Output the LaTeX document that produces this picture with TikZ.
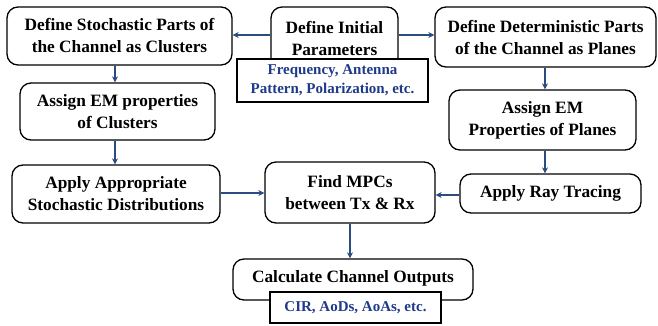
\documentclass[tikz,border=0pt]{standalone}
\usepackage{fontspec}
\setmainfont{Liberation Serif}
\usetikzlibrary{arrows.meta}
\definecolor{arrowblue}{HTML}{2B4C7E}
\definecolor{textblue}{HTML}{1F3A8A}
\begin{document}
\begin{tikzpicture}[x=1pt,y=-1pt,
  proc/.style={draw=black,line width=1.3pt,rounded corners=11pt,fill=white,align=center,
    font=\fontsize{17.3}{22}\selectfont\bfseries,inner sep=0pt},
  bigtext/.style={font=\fontsize{17.3}{22}\selectfont\bfseries,align=center,inner sep=0pt},
  info/.style={draw=black,line width=1.3pt,fill=white,align=center,text=textblue,
    font=\fontsize{15}{19}\selectfont\bfseries,inner sep=0pt},
  conn/.style={draw=arrowblue,line width=1.2pt,-{Stealth[length=6pt,width=6pt]}}]
\useasboundingbox (0,0) rectangle (658,325);
% boxes: center x, center y, width, height
\node[proc,minimum width=225pt,minimum height=58pt] (stoch) at (119.5,36) {Define Stochastic Parts of\\the Channel as Clusters};
\node[proc,minimum width=127pt,minimum height=62pt] (init) at (334.5,38) {};
\node[bigtext] (inittxt) at (334.5,38) {Define Initial\\Parameters};
\node[info,minimum width=191pt,minimum height=43pt] (freq) at (332.5,80.5) {Frequency, Antenna\\Pattern, Polarization, etc.};
\node[proc,minimum width=221pt,minimum height=60pt] (det) at (545.5,37) {Define Deterministic Parts\\of the Channel as Planes};
\node[proc,minimum width=195pt,minimum height=57pt] (emc) at (117.5,111.5) {Assign EM properties\\of Clusters};
\node[proc,minimum width=187pt,minimum height=60pt] (emp) at (542.5,120) {Assign EM\\Properties of Planes};
\node[proc,minimum width=208pt,minimum height=58pt] (dist) at (116,194) {Apply Appropriate\\Stochastic Distributions};
\node[proc,minimum width=170pt,minimum height=61pt] (mpc) at (350,192.5) {Find MPCs\\between Tx \& Rx};
\node[proc,minimum width=181pt,minimum height=39pt] (ray) at (550.5,193.5) {Apply Ray Tracing};
\node[proc,minimum width=240pt,minimum height=41pt] (calc) at (353,279.5) {};
\node[bigtext] (calctxt) at (353,278) {Calculate Channel Outputs};
\node[info,minimum width=171pt,minimum height=31pt] (cir) at (355.5,307.5) {CIR, AoDs, AoAs, etc.};
% connectors
\draw[conn] (init.west |- 0,35) -- (stoch.east |- 0,35);
\draw[conn] (init.east |- 0,35) -- (det.west |- 0,35);
\draw[conn] (stoch.south -| 115,0) -- (emc.north -| 115,0);
\draw[conn] (emc.south -| 115,0) -- (dist.north -| 115,0);
\draw[conn] (det.south -| 545,0) -- (emp.north -| 545,0);
\draw[conn] (emp.south -| 545,0) -- (ray.north -| 545,0);
\draw[conn] (dist.east |- 0,193) -- (mpc.west |- 0,193);
\draw[conn] (ray.west |- 0,195) -- (mpc.east |- 0,195);
\draw[conn] (mpc.south) -- (calc.north -| mpc.south);
\end{tikzpicture}
\end{document}
